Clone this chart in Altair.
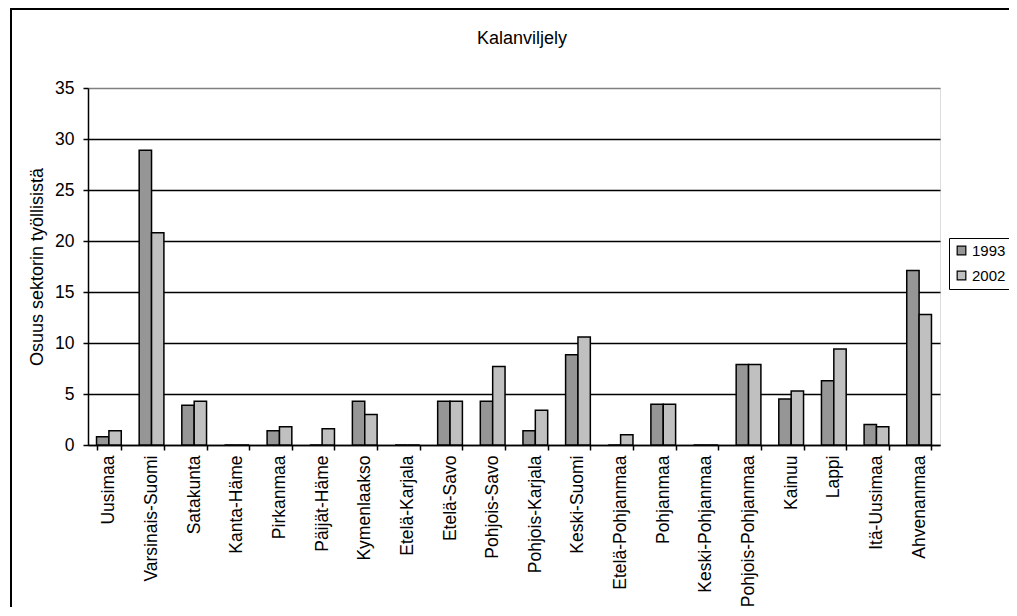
import altair as alt
import pandas as pd

title_text = "Kalanviljely"
y_title = "Osuus sektorin työllisistä"
regions = ["Uusimaa", "Varsinais-Suomi", "Satakunta", "Kanta-Häme", "Pirkanmaa",
           "Päijät-Häme", "Kymenlaakso", "Etelä-Karjala", "Etelä-Savo", "Pohjois-Savo",
           "Pohjois-Karjala", "Keski-Suomi", "Etelä-Pohjanmaa", "Pohjanmaa",
           "Keski-Pohjanmaa", "Pohjois-Pohjanmaa", "Kainuu", "Lappi", "Itä-Uusimaa",
           "Ahvenanmaa"]
v1993 = [0.8, 28.9, 3.9, 0, 1.4, 0, 4.3, 0, 4.3, 4.3, 1.4, 8.85, 0, 4.0, 0, 7.9, 4.5, 6.3, 2.0, 17.1]
v2002 = [1.4, 20.8, 4.3, 0, 1.8, 1.6, 3.0, 0, 4.3, 7.7, 3.4, 10.6, 1.0, 4.0, 0, 7.9, 5.3, 9.4, 1.8, 12.8]
years = ["1993", "2002"]
y_ticks = [0, 5, 10, 15, 20, 25, 30, 35]

rows = []
for r, a, b in zip(regions, v1993, v2002):
    rows.append({"region": r, "year": "1993", "value": a})
    rows.append({"region": r, "year": "2002", "value": b})
df = pd.DataFrame(rows)

W, H = 852, 357
FONT = "Liberation Sans"

bars = alt.Chart(df).mark_bar(stroke="black", strokeWidth=1.5).encode(
    x=alt.X("region:N", sort=regions,
            scale=alt.Scale(paddingInner=0.42, paddingOuter=0.2),
            axis=alt.Axis(title=None, labelAngle=-90, labelFontSize=17.5, labelFont=FONT,
                          labelColor="black", domainColor="black", domainWidth=1.5,
                          tickColor="black", tickWidth=1.5, tickSize=5, tickBand="extent",
                          labelPadding=5, labelBaseline="middle", labelAlign="right")),
    xOffset=alt.XOffset("year:N", sort=years),
    y=alt.Y("value:Q", scale=alt.Scale(domain=[0, 35], nice=False),
            axis=alt.Axis(title=y_title, values=y_ticks,
                          titleFont=FONT, titleFontSize=18, titleFontWeight="normal",
                          titleColor="black", titlePadding=8,
                          labelFont=FONT, labelFontSize=17.5, labelColor="black",
                          domainColor="black", domainWidth=1.5, tickColor="black",
                          tickWidth=1.5, tickSize=5, labelPadding=9,
                          grid=True, gridWidth=1.5,
                          gridColor={"condition": {"test": "datum.value == 35", "value": "#808080"},
                                     "value": "black"})),
    color=alt.Color("year:N", sort=years,
                    scale=alt.Scale(domain=years, range=["#969696", "#c0c0c0"]),
                    legend=alt.Legend(title=None, orient="none", legendX=861, legendY=150,
                                      symbolType="square", symbolSize=75,
                                      symbolStrokeColor="black", symbolStrokeWidth=1.2,
                                      labelFont=FONT, labelFontSize=15, labelColor="black",
                                      strokeColor="black",
                                      padding=5, rowPadding=9, labelOffset=3)),
)

title = alt.Chart(pd.DataFrame({"t": [title_text]})).mark_text(
    font=FONT, fontSize=18, color="black", align="center", baseline="middle"
).encode(text="t:N", x=alt.value(434), y=alt.value(-49))

border = alt.Chart(pd.DataFrame({"a": [0]})).mark_rect(
    fill=None, stroke="black", strokeWidth=2
).encode(x=alt.value(-77), x2=alt.value(W + 300), y=alt.value(-79), y2=alt.value(H + 400))

chart = alt.layer(bars, title, border).properties(
    width=W, height=H,
    autosize=alt.AutoSizeParams(type="none"),
    padding={"left": 80, "top": 80, "right": 69, "bottom": 162},
).configure_view(stroke="#808080", strokeWidth=2).configure(background="white")

chart.save("out.html", embed_options={"renderer": "svg", "actions": False})
